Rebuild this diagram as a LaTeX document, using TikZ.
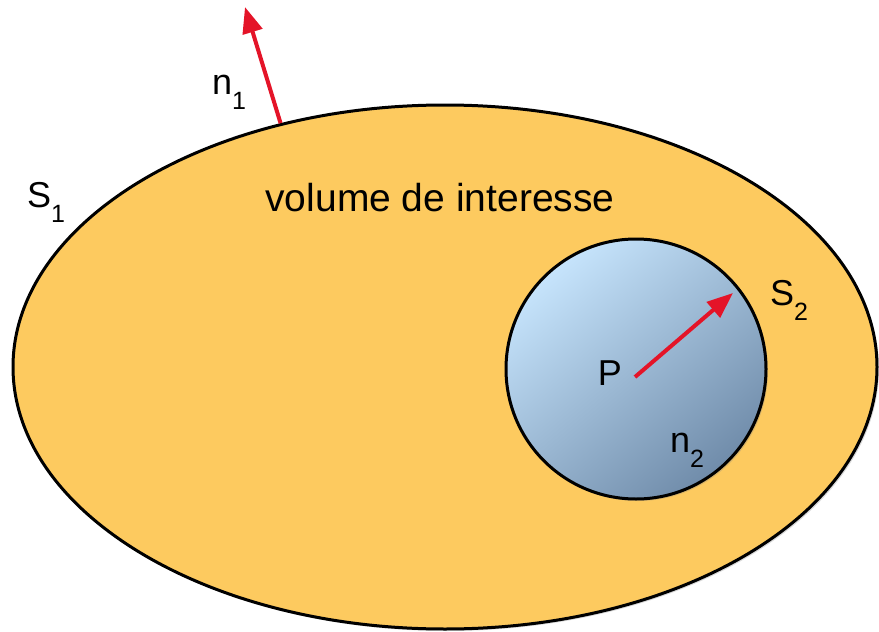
\documentclass[tikz,border=0pt]{standalone}
\usepackage{fontspec}
\setmainfont{Liberation Sans}
\usetikzlibrary{shapes.geometric, shadows, arrows.meta, calc}

\definecolor{volfill}{RGB}{253,202,95}
\definecolor{ballhi}{RGB}{198,228,252}
\definecolor{ballmid}{RGB}{184,216,244}
\definecolor{balllo}{RGB}{112,140,170}
\definecolor{vecred}{RGB}{228,20,40}

\newcommand{\subidx}[1]{\raisebox{-0.42em}{\fontsize{25}{25}\selectfont #1}}

\begin{document}
\begin{tikzpicture}[x=1pt, y=-1pt,
    lbl/.style={font=\fontsize{36}{40}\selectfont, inner sep=0pt},
    vec/.style={draw=vecred, line width=4pt, -{Triangle[length=26pt, width=20pt]}},
    surf/.style={draw=black, line width=3pt,
        drop shadow={opacity=0.3, shadow xshift=2pt, shadow yshift=-2pt}}]
    \useasboundingbox (0,0) rectangle (879,632);

    % volume and inner ball
    \node[surf, ellipse, fill=volfill, minimum width=864pt, minimum height=524pt,
          inner sep=0pt] (s1) at (445,367) {};
    \node[surf, circle, top color=ballhi, middle color=ballmid, bottom color=balllo,
          shading angle=40, minimum size=260pt, inner sep=0pt] (s2) at (636,369) {};

    \node[font=\fontsize{39}{44}\selectfont, inner sep=0pt] (vol) at (440,198) {volume de interesse};
    \node[lbl] (lS1) at (46,202) {S\subidx{1}};
    \node[lbl] (ln1) at (229,92) {n\subidx{1}};
    \node[lbl] (lS2) at (789,300) {S\subidx{2}};
    \node[lbl] (lP) at (610,373) {P};
    \node[lbl] (ln2) at (687,450) {n\subidx{2}};

    % normals
    \coordinate (n1tip) at (245,7);
    \coordinate (pc) at (635,377);
    \coordinate (n2tip) at (733,293);
    \draw[vec] (s1.124) -- (n1tip);
    \draw[vec] (pc) -- (n2tip);
\end{tikzpicture}
\end{document}
